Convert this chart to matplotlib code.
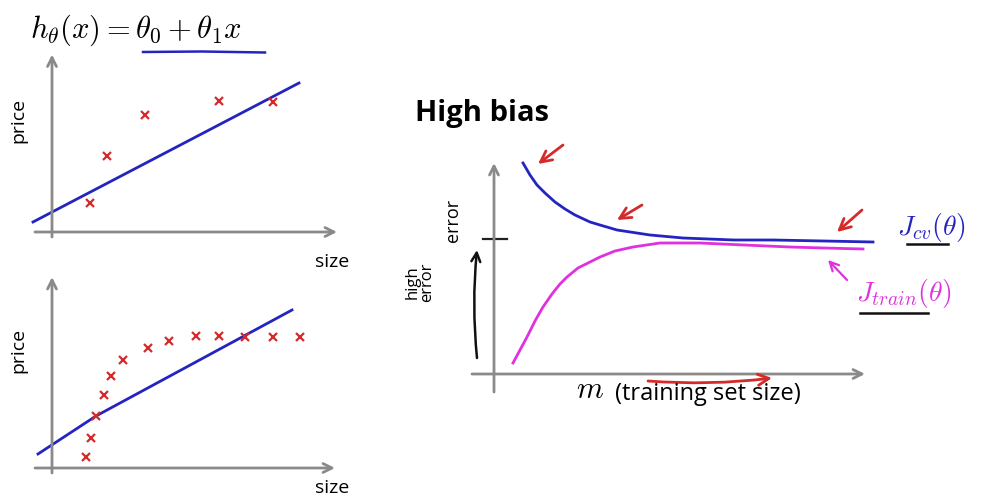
import matplotlib
matplotlib.use("Agg")
import matplotlib.pyplot as plt

plt.rcParams["font.family"] = ["Open Sans", "DejaVu Sans"]
plt.rcParams["mathtext.fontset"] = "cm"

W, H = 985, 500

# top-left: underfit on a few points (size, price)
size_top = [1.52, 2.2, 3.72, 6.68, 8.84]
price_top = [1.16, 3.04, 4.68, 5.24, 5.2]
fit_top_x = [-0.76, 9.88]
fit_top_y = [0.4, 5.96]

# bottom-left: underfit on many points
size_bot = [1.36, 1.56, 1.76, 2.08, 2.36, 2.84, 3.84, 4.68, 5.76, 6.68, 7.72, 8.84, 9.92]
price_bot = [0.44, 1.2, 2.08, 2.92, 3.68, 4.32, 4.8, 5.08, 5.28, 5.28, 5.24, 5.24, 5.24]
fit_bot_x = [-0.56, 1.76, 9.6]
fit_bot_y = [0.56, 2.08, 6.32]

# right: learning curves, high bias
m_cv = [2.9, 3.6, 4.3, 5.1, 6.1, 7.1, 8.1, 9.6, 10.6, 12.3, 15.6, 18.9,
        24.0, 27.9, 33.0, 37.9]
j_cv = [21.1, 19.9, 18.9, 18.1, 17.2, 16.5, 15.9, 15.2, 14.9, 14.4, 13.9, 13.6,
        13.4, 13.4, 13.3, 13.2]
m_train = [1.9, 2.6, 3.3, 4.1, 4.9, 5.8, 6.6, 7.3, 8.4, 9.6, 10.6, 12.1, 13.9,
           16.6, 20.6, 25.0, 29.6, 33.0, 36.9]
j_train = [1.1, 2.4, 3.7, 5.3, 6.7, 8.0, 9.0, 9.7, 10.6, 11.2, 11.7, 12.3, 12.7,
           13.1, 13.1, 12.9, 12.7, 12.6, 12.5]

GRAY = "#8a8a8a"
RED = "#d42a2a"
BLUE = "#2424c0"
MAGENTA = "#e030e0"

fig = plt.figure(figsize=(W / 100, H / 100), dpi=100)


def px_axes(x0, y0, x1, y1, ox, oy, sc):
    # axes over a pixel box, data origin at (ox, oy), sc pixels per unit
    ax = fig.add_axes([x0 / W, 1 - y1 / H, (x1 - x0) / W, (y1 - y0) / H])
    ax.set_xlim((x0 - ox) / sc, (x1 - ox) / sc)
    ax.set_ylim((oy - y1) / sc, (oy - y0) / sc)
    ax.axis("off")
    return ax


def arrow(ax, start, end, color, lw=2.0, rad=0.0, head=16):
    ax.annotate("", xy=end, xytext=start,
                arrowprops=dict(arrowstyle="->", color=color, lw=lw,
                                mutation_scale=head, shrinkA=0, shrinkB=0,
                                connectionstyle="arc3,rad=%s" % rad))


def fx(x, y):
    return x / W, 1 - y / H


# ---- top-left
ax1 = px_axes(0, 40, 350, 250, 52, 232, 25)
arrow(ax1, (-0.68, 0), (11.4, 0), GRAY)
arrow(ax1, (0, -0.2), (0, 7.1), GRAY)
ax1.plot(fit_top_x, fit_top_y, color=BLUE, lw=2)
ax1.plot(size_top, price_top, "x", color=RED, ms=6, mew=1.6)
ax1.plot([3.64, 6.0, 8.52], [7.2, 7.22, 7.18], color=BLUE, lw=1.8)
fig.text(*fx(30, 30), r"$h_\theta(x) = \theta_0 + \theta_1 x$", fontsize=22,
         ha="left", va="center")
fig.text(*fx(18, 120), "price", rotation=90, fontsize=14, ha="center", va="center")
fig.text(*fx(332, 262), "size", fontsize=14, ha="center", va="center")

# ---- bottom-left
ax2 = px_axes(0, 265, 350, 485, 52, 468, 25)
arrow(ax2, (-0.68, 0), (11.32, 0), GRAY)
arrow(ax2, (0, -0.2), (0, 7.64), GRAY)
ax2.plot(fit_bot_x, fit_bot_y, color=BLUE, lw=2)
ax2.plot(size_bot, price_bot, "x", color=RED, ms=6, mew=1.6)
fig.text(*fx(18, 350), "price", rotation=90, fontsize=14, ha="center", va="center")
fig.text(*fx(332, 488), "size", fontsize=14, ha="center", va="center")

# ---- right: learning curves
ax3 = px_axes(400, 130, 985, 420, 494, 374, 10)
arrow(ax3, (-2.2, 0), (37.1, 0), GRAY)
arrow(ax3, (0, -1.8), (0, 21.1), GRAY)
ax3.plot([-1.1, 1.3], [13.5, 13.5], color="#202020", lw=1.6)
ax3.plot(m_cv, j_cv, color=BLUE, lw=2)
ax3.plot(m_train, j_train, color=MAGENTA, lw=2)

arrow(ax3, (6.9, 22.9), (4.4, 21.0), RED, head=20)
arrow(ax3, (14.8, 16.9), (12.3, 15.4), RED, head=20)
arrow(ax3, (36.8, 16.4), (34.3, 14.2), RED, head=20)
arrow(ax3, (15.4, -0.7), (27.8, -0.4), RED, rad=0.05, head=20)
arrow(ax3, (35.3, 9.4), (33.4, 11.4), MAGENTA, lw=1.6)
arrow(ax3, (-1.7, 1.6), (-1.7, 12.4), "#111111", lw=1.8, rad=-0.05)

ax3.text(43.7, 14.7, r"$J_{cv}(\theta)$", color=BLUE, fontsize=20,
         ha="center", va="center")
ax3.plot([41.3, 45.4], [13.0, 13.0], color="#111111", lw=1.8)
ax3.text(41.0, 8.0, r"$J_{train}(\theta)$", color=MAGENTA, fontsize=20,
         ha="center", va="center")
ax3.plot([36.6, 43.4], [6.1, 6.1], color="#111111", lw=1.8)

fig.text(*fx(415, 113), "High bias", fontsize=21, fontweight="bold",
         ha="left", va="center")
fig.text(*fx(453, 220), "error", rotation=90, fontsize=13, ha="center", va="center")
fig.text(*fx(420, 282), "high\nerror", rotation=90, fontsize=12,
         ha="center", va="center", linespacing=0.85)
fig.text(*fx(590, 390), r"$m$", fontsize=22, ha="center", va="center")
fig.text(*fx(615, 394), "(training set size)", fontsize=17, ha="left", va="center")

fig.savefig("out.png", dpi=100, facecolor="white")
